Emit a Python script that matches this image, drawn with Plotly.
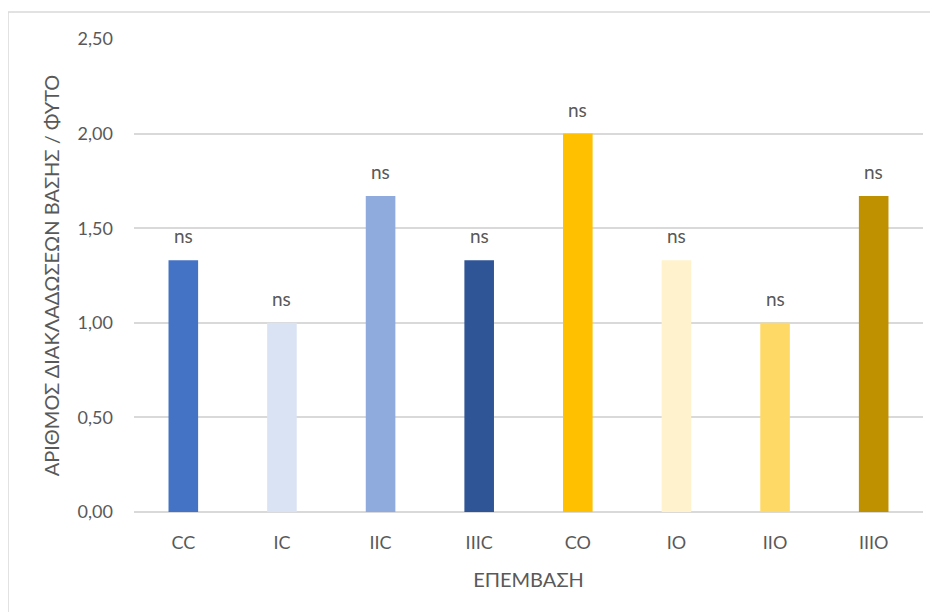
import plotly.graph_objects as go

# treatments and values (branches per plant)
treatments = ["CC", "IC", "IIC", "IIIC", "CO", "IO", "IIO", "IIIO"]
branches = [1.33, 1.00, 1.67, 1.33, 2.00, 1.33, 1.00, 1.67]
labels = ["ns"] * 8
colors = ["#4472C4", "#DAE3F3", "#8FAADC", "#2F5597",
          "#FFC000", "#FFF2CC", "#FFD966", "#BF9000"]

font = "Lato, 'Open Sans', sans-serif"
grey = "#595959"

fig = go.Figure(go.Bar(
    x=treatments,
    y=branches,
    marker=dict(color=colors, line=dict(width=0)),
    width=0.3,
    hoverinfo="x+y",
))

for t, v, lab in zip(treatments, branches, labels):
    fig.add_annotation(x=t, y=v, text=lab, showarrow=False,
                       yanchor="bottom", yshift=11,
                       font=dict(family=font, size=19, color=grey))

# chart area border
fig.add_shape(type="rect", xref="paper", yref="paper",
              x0=-0.1597, x1=1.03, y0=-0.23, y1=1.0571,
              line=dict(color="#D9D9D9", width=1.5), layer="below")

fig.update_layout(
    width=938, height=612,
    margin=dict(l=126, r=23, t=31, b=108),
    paper_bgcolor="white", plot_bgcolor="white",
    separators=",.",
    showlegend=False,
    font=dict(family=font, color=grey, size=18),
    xaxis=dict(
        title=dict(text="ΕΠΕΜΒΑΣΗ", font=dict(size=20, color=grey), standoff=20),
        showgrid=False, showline=False, ticks="",
        ticklabelstandoff=18,
        tickfont=dict(size=18, color=grey),
    ),
    yaxis=dict(
        title=dict(text="ΑΡΙΘΜΟΣ ΔΙΑΚΛΑΔΩΣΕΩΝ ΒΑΣΗΣ / ΦΥΤΟ",
                   font=dict(size=20, color=grey), standoff=12),
        range=[0, 2.5], dtick=0.5, tickformat=".2f",
        showgrid=True, gridcolor="#D9D9D9", gridwidth=1.5,
        zeroline=True, zerolinecolor="#D9D9D9", zerolinewidth=1.5,
        showline=False, ticks="",
        ticklabelstandoff=20,
        tickfont=dict(size=18, color=grey),
    ),
)

fig.write_html("out.html")
